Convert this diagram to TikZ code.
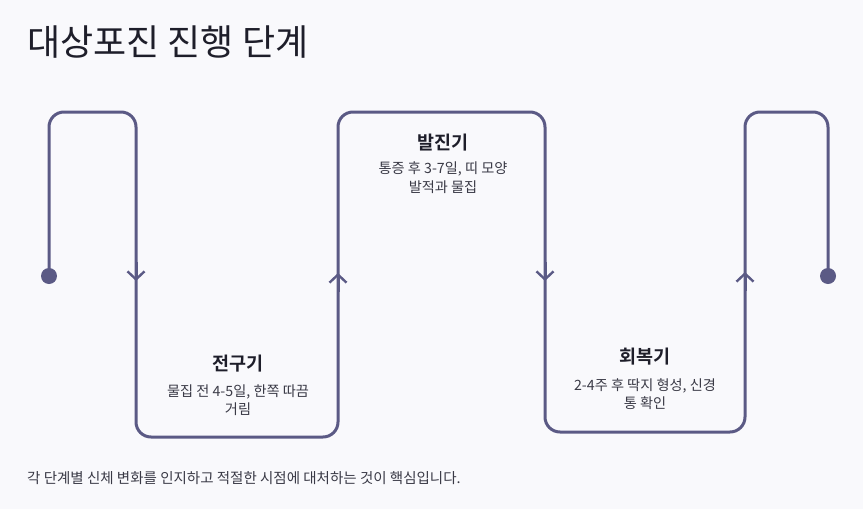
\documentclass[tikz,border=0pt]{standalone}
\usepackage{fontspec}
\setmainfont{Noto Sans CJK KR}[BoldFont={Noto Sans CJK KR Bold}]
\usetikzlibrary{arrows.meta}
\definecolor{bg}{HTML}{F9F9FC}
\definecolor{flowc}{HTML}{5B5A85}
\definecolor{titlec}{HTML}{1E1E2A}
\definecolor{textc}{HTML}{3A3A46}
\tikzset{
  flow/.style={draw=flowc, line width=3pt, rounded corners=15pt},
  tipmark/.style={draw=flowc, line width=3pt, -{Straight Barb[length=8pt,width=17pt,line width=2.4pt]}},
  enddot/.style={circle, fill=flowc, inner sep=0pt, minimum size=16pt},
  stagehead/.style={inner sep=0pt, text=titlec, font=\fontsize{18.5}{22}\selectfont\bfseries},
  stagedesc/.style={inner sep=0pt, text=textc, align=center, font=\fontsize{14.2}{18.5}\selectfont},
}
\begin{document}
\begin{tikzpicture}[x=1pt,y=-1pt]
\fill[bg] (0,0) rectangle (863,509);
\useasboundingbox (0,0) rectangle (863,509);

\node[anchor=west, inner sep=0pt, text=titlec, font=\fontsize{36}{40}\selectfont] (title) at (27,42) {대상포진 진행 단계};

\node[enddot] (dotL) at (49,276) {};
\node[enddot] (dotR) at (828,276) {};
\coordinate (c1) at (49,112);
\coordinate (c2) at (136,112);
\coordinate (c3) at (136,437);
\coordinate (c4) at (338,437);
\coordinate (c5) at (338,112);
\coordinate (c6) at (545,112);
\coordinate (c7) at (545,432);
\coordinate (c8) at (745,432);
\coordinate (c9) at (745,112);
\coordinate (c10) at (828,112);

\draw[flow] (dotL.center) -- (c1) -- (c2) -- (c3) -- (c4) -- (c5) -- (c6) -- (c7) -- (c8) -- (c9) -- (c10) -- (dotR.center);

\coordinate (a1s) at (136,262); \coordinate (a1e) at (136,281);
\coordinate (a2s) at (338,292); \coordinate (a2e) at (338,273);
\coordinate (a3s) at (545,262); \coordinate (a3e) at (545,281);
\coordinate (a4s) at (745,291); \coordinate (a4e) at (745,272);
\draw[tipmark] (a1s) -- (a1e);
\draw[tipmark] (a2s) -- (a2e);
\draw[tipmark] (a3s) -- (a3e);
\draw[tipmark] (a4s) -- (a4e);

\node[stagehead] (h1) at (238,364) {전구기};
\node[stagedesc] (d1) at (238,400) {물집 전 4-5일, 한쪽 따끔\\거림};
\node[stagehead] (h2) at (443,143) {발진기};
\node[stagedesc] (d2) at (443,177.5) {통증 후 3-7일, 띠 모양\\발적과 물집};
\node[stagehead] (h3) at (645,357) {회복기};
\node[stagedesc] (d3) at (645,394) {2-4주 후 딱지 형성, 신경\\통 확인};

\node[anchor=west, inner sep=0pt, text=textc, font=\fontsize{14.5}{17}\selectfont] (foot) at (27,478) {각 단계별 신체 변화를 인지하고 적절한 시점에 대처하는 것이 핵심입니다.};
\end{tikzpicture}
\end{document}
